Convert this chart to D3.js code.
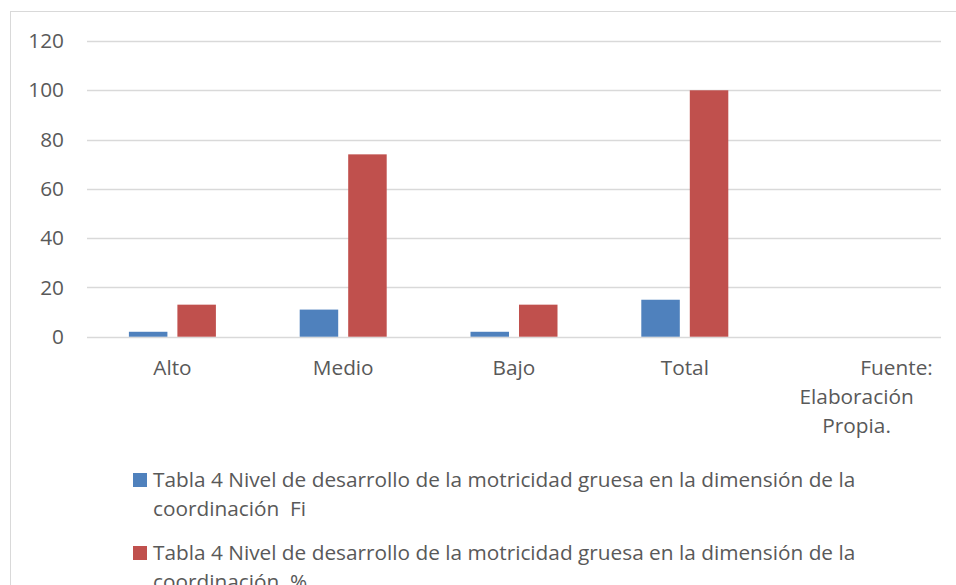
<!DOCTYPE html>
<html><head><meta charset="utf-8">
<script src="https://cdn.jsdelivr.net/npm/d3@7"></script>
<style>html,body{margin:0;padding:0;background:#fff;}svg{display:block;}text{white-space:pre;}</style>
</head><body>
<svg id="c" width="956" height="585"></svg>
<script>
const categories = ["Alto", "Medio", "Bajo", "Total", "Fuente: Elaboración Propia."];
const seriesNames = [
  "Tabla 4 Nivel de desarrollo de la motricidad gruesa en la dimensión de la coordinación  Fi",
  "Tabla 4 Nivel de desarrollo de la motricidad gruesa en la dimensión de la coordinación  %"
];
const fiValues = [2, 11, 2, 15, null];
const pctValues = [13, 74, 13, 100, null];
const yTicks = [0, 20, 40, 60, 80, 100, 120];
const colors = ["#4F81BD", "#C0504D"];

const FONT = "'Open Sans', sans-serif";
const TXT = "#595959";
const svg = d3.select("#c");

// fit font size so the legend line matches the reference width
const probe = svg.append("text").attr("font-family", FONT).attr("font-size", 19)
  .text("Tabla 4 Nivel de desarrollo de la motricidad gruesa en la dimensión de la");
const FS = Math.round(19 * 704 / probe.node().getComputedTextLength() * 10) / 10;
probe.remove();

// chart border
svg.append("rect").attr("x", 10.5).attr("y", 11.5).attr("width", 960).attr("height", 600)
  .attr("fill", "#fff").attr("stroke", "#d9d9d9").attr("stroke-width", 1);

const x = d3.scaleBand().domain(categories).range([87, 941]);
const y = d3.scaleLinear().domain([0, 120]).range([336.7, 41]);

// gridlines
svg.append("g").selectAll("line").data(yTicks).join("line")
  .attr("x1", 87).attr("x2", 941)
  .attr("y1", d => Math.round(y(d)) + 0.5).attr("y2", d => Math.round(y(d)) + 0.5)
  .attr("stroke", "#d9d9d9").attr("stroke-width", d => d === 0 ? 1.5 : 1.3);

// y axis labels via d3 axis
const yAxis = svg.append("g").attr("transform", "translate(64,0)")
  .call(d3.axisLeft(y).tickValues(yTicks).tickSize(0).tickPadding(0));
yAxis.select(".domain").remove();
yAxis.selectAll("text").attr("font-family", FONT).attr("font-size", FS).attr("fill", TXT);

// bars
const bw = x.bandwidth();
const groupW = 87;
const inner = d3.scaleBand().domain([0, 1]).range([(bw - groupW) / 2, (bw + groupW) / 2]).paddingInner(0.206);
const series = [fiValues, pctValues];
series.forEach((vals, si) => {
  svg.append("g").selectAll("rect").data(categories.map((c, i) => ({c, v: vals[i]})).filter(d => d.v != null))
    .join("rect")
    .attr("x", d => x(d.c) + inner(si))
    .attr("width", inner.bandwidth())
    .attr("y", d => y(d.v))
    .attr("height", d => y(0) - y(d.v))
    .attr("fill", colors[si]);
});

// category labels
const catLines = {
  "Alto": [["Alto", 0]], "Medio": [["Medio", 0]], "Bajo": [["Bajo", 0]], "Total": [["Total", 0]],
  "Fuente: Elaboración Propia.": [["Fuente:", 41], ["Elaboración", 1], ["Propia.", 1]]
};
const xg = svg.append("g");
categories.forEach(c => {
  catLines[c].forEach((ln, li) => {
    xg.append("text").attr("x", x(c) + bw / 2 + ln[1]).attr("y", 368 + li * 29)
      .attr("dy", "0.35em").attr("text-anchor", "middle")
      .attr("font-family", FONT).attr("font-size", FS).attr("fill", TXT).text(ln[0]);
  });
});

// legend
const legendLines = [
  ["Tabla 4 Nivel de desarrollo de la motricidad gruesa en la dimensión de la", "coordinación  Fi"],
  ["Tabla 4 Nivel de desarrollo de la motricidad gruesa en la dimensión de la", "coordinación  %"]
];
const lg = svg.append("g");
legendLines.forEach((lines, i) => {
  const y0 = 480 + i * 73;
  lg.append("rect").attr("x", 133).attr("y", y0 - 7).attr("width", 14).attr("height", 14).attr("fill", colors[i]);
  lines.forEach((t, li) => {
    lg.append("text").attr("x", 153).attr("y", y0 + li * 29).attr("dy", "0.35em")
      .attr("font-family", FONT).attr("font-size", FS).attr("fill", TXT).text(t);
  });
});
</script>
</body></html>
